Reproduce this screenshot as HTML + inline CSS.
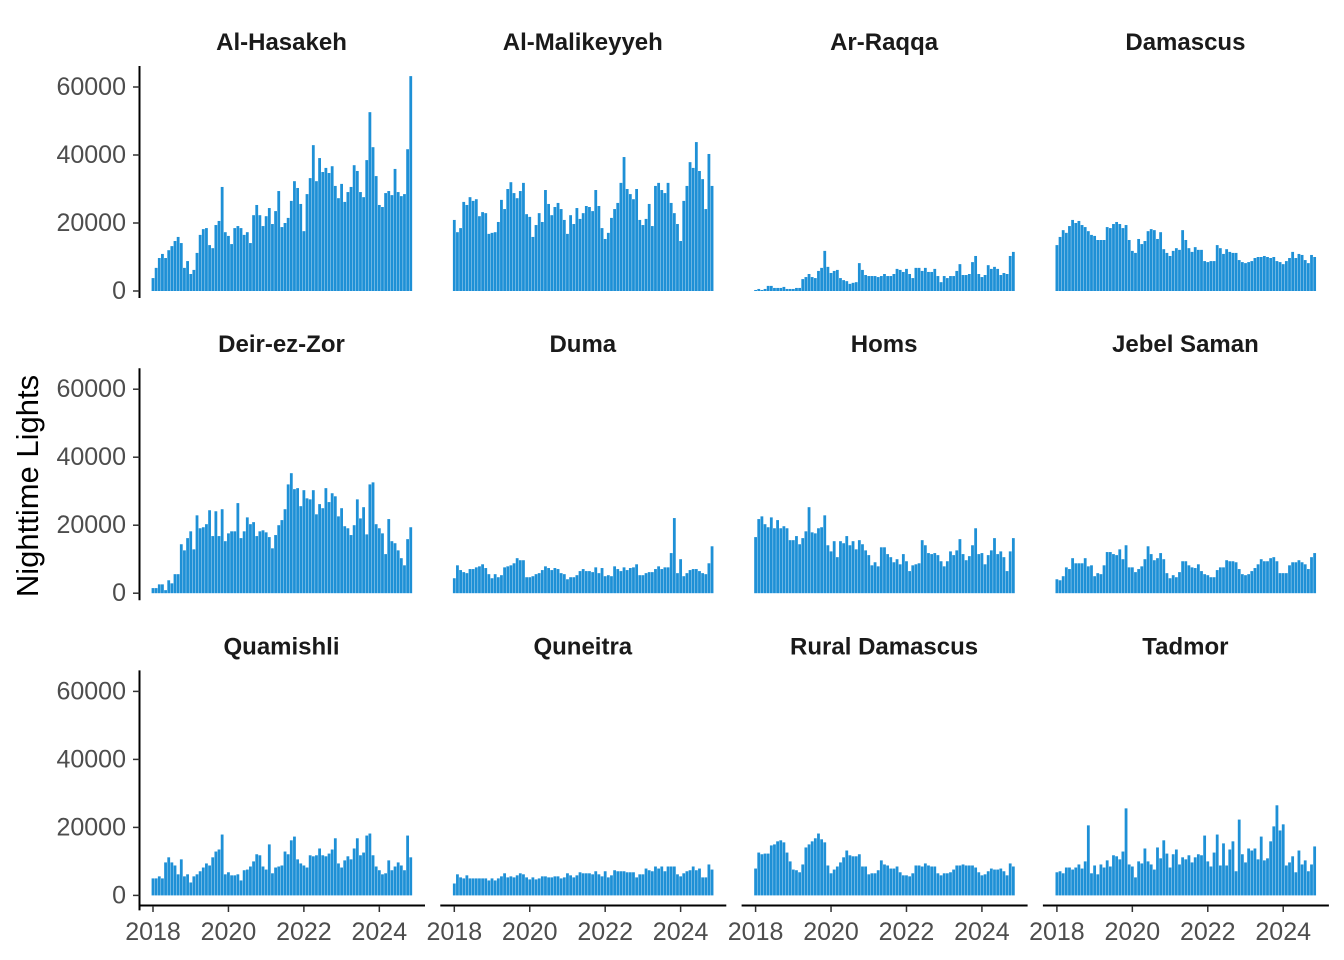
<!DOCTYPE html>
<html><head><meta charset="utf-8">
<style>
html,body{margin:0;padding:0;background:#fff;}
svg{display:block;font-family:"Liberation Sans",Arial,sans-serif;}
</style></head>
<body>
<svg id="chart" width="1344" height="960" viewBox="0 0 1344 960" xmlns="http://www.w3.org/2000/svg">
<text x="0" y="0" transform="translate(38,486) rotate(-90)" text-anchor="middle" font-size="31" fill="#000">Nighttime Lights</text>
</svg>
<script>
const panelNames = ["Al-Hasakeh","Al-Malikeyyeh","Ar-Raqqa","Damascus","Deir-ez-Zor","Duma","Homs","Jebel Saman","Quamishli","Quneitra","Rural Damascus","Tadmor"];
const yTicks = [0,20000,40000,60000];
const xTicks = [2018,2020,2022,2024];
const startYear = 2018;
const vHasakeh = [3800,6800,9700,10900,9700,12000,13200,14700,15900,14100,6800,8800,5000,6200,11200,16500,18200,18500,13500,12600,19400,20600,30600,17300,16200,13800,18500,19100,18500,16500,17300,14100,22300,25300,22300,19100,22000,24400,19700,23500,29400,18800,20000,21500,26500,32300,30300,25600,17600,28500,33200,42900,32300,39100,35000,36200,34700,36700,30900,27300,31500,26200,29100,30600,37000,35300,29100,27600,38500,52600,42300,33800,25300,24700,28800,29400,28200,35900,29100,27900,28500,41700,63200];
const vMalikeyyeh = [20900,17300,18500,26200,25300,27600,26500,27000,22000,23200,22900,16800,17100,17300,20300,26800,24100,30000,32000,28800,27300,29400,31800,22600,21800,15900,19400,22900,20300,29700,25600,22300,24700,25900,24100,20900,16800,22300,19700,24400,21200,22900,25000,24700,23500,29700,25000,18500,15300,17100,21500,24100,25900,31800,39400,30000,28500,27000,30000,20900,19400,21200,25600,19100,30900,31800,29700,28800,31800,25900,22900,19700,14700,26500,30900,37900,36200,43800,35300,32900,24100,40300,30900];
const vRaqqa = [300,600,300,600,1500,1500,900,900,900,1200,600,600,600,900,900,3500,4100,5000,4100,3800,5900,6800,11800,7100,5300,5900,6200,3800,3200,2900,2100,2400,2600,8200,6200,4700,4400,4400,4400,4100,4400,5000,4400,4400,5000,6500,6200,5600,6500,5000,3800,6800,6800,5900,6800,5600,5600,6500,4400,2600,4400,3800,4400,4400,5900,7900,4700,4700,5000,8500,10300,5000,4100,4700,7600,6500,7100,6500,4700,5300,5000,10300,11500];
const vDamascus = [13500,15900,17900,17100,19100,20900,20000,20600,19400,18800,17600,16500,16200,15000,15000,15000,18800,18500,19700,20300,19700,18500,19400,15000,11800,11200,15300,13800,14700,17600,18200,17900,15300,17300,12300,11200,10300,11800,12600,12100,17900,15000,12600,11500,12900,12100,12100,8800,8500,8800,8800,13500,12600,10900,12300,11500,11200,11200,9100,8500,8200,8500,8800,9700,10000,10000,10300,10000,9700,10000,8800,8500,7900,8800,9700,11500,9700,10900,10600,9100,8200,10600,10000];
const vDeir = [1500,1500,2600,2600,900,3800,2900,5600,5600,14400,12600,16200,18200,12900,22900,19100,19400,20300,24400,16800,24100,16800,24700,15300,17600,18200,18200,26500,16200,18200,22300,20300,20900,16800,18200,18500,17900,16500,13200,17100,20000,21500,24700,32000,35300,30600,30900,25600,30300,27900,27600,30300,23200,26200,25000,30900,26800,29400,28500,22600,25000,19700,19100,17100,20000,27600,22000,25300,17300,32000,32600,20300,19100,17600,11500,21800,15300,14700,12600,10300,8200,15900,19400];
const vDuma = [4400,8200,6800,6200,5900,7100,7100,7600,7900,8500,7400,5600,4400,5600,4700,5300,7600,7900,8200,8800,10300,9700,9700,4700,4700,5000,5600,5900,6800,7900,7400,6800,7400,7100,5900,5600,4100,4700,4700,5300,6500,7100,6500,6500,6200,7600,5900,7400,5000,5300,5000,7900,7100,6500,7600,6800,7400,7600,8500,5300,5300,5900,6200,6200,7100,7900,7100,7600,7600,11800,22100,5900,10000,5000,5900,6800,7100,7100,6500,5900,5600,8800,13800];
const vHoms = [16500,21800,22600,20300,19400,22300,19100,21500,19100,19700,19100,15600,15600,16800,14400,16200,18200,25300,17900,17600,19100,19400,22900,14100,12300,15300,10600,15300,14700,16800,14100,15300,12900,15600,14400,12600,11200,8200,9100,7900,13500,13500,11500,10600,9100,10000,8500,11500,9400,6500,8200,8500,8800,15600,14100,11800,11500,11800,11200,9400,7900,9400,12300,11200,12600,15900,11500,9700,10900,14100,19100,11500,11800,8500,11200,12600,16200,11500,12300,10600,6500,12300,16200];
const vJebel = [4100,3800,5000,7600,7100,10300,8800,8800,8800,10300,7900,8200,5000,5900,5600,8200,12100,12100,11500,11200,12900,10000,14100,7600,7600,6200,7100,7900,10000,13800,11500,9700,10300,11800,10000,5900,4400,5300,4700,6200,9400,9400,8200,7600,7400,8500,6500,5600,5300,4700,4700,6800,7600,7600,9700,9400,9400,9100,7100,5600,5300,5600,6500,7400,8500,10000,9400,9400,10300,10600,9400,5900,5900,5900,8200,9100,9100,9700,9100,8500,7100,10600,11800];
const vQuamishli = [5000,5000,5600,5000,9700,11200,9700,8800,6200,10600,5600,6200,3800,5600,6200,7100,8200,9400,8800,11200,12900,13500,17900,6200,6800,5900,5900,6200,4400,7400,7600,8500,10000,12100,11800,8500,7600,15000,6500,8200,8500,8800,12900,12100,16200,17300,10600,9400,8800,8200,11800,11500,11800,13800,11800,11500,12300,13500,16800,9400,8200,10300,11500,10600,13800,16800,11800,12600,17600,18200,11800,8500,7400,6200,6500,10300,7400,8500,9700,8800,7400,17600,11200];
const vQuneitra = [3500,6200,5300,5000,5900,5000,5000,5000,5000,5000,5000,4400,5000,4400,5000,5600,6500,5300,5600,5300,5900,6500,6200,5300,4700,5300,4700,5000,5600,5600,5300,5300,5600,5600,5000,5300,6500,5900,5300,5900,6800,6500,6500,6500,6200,7100,6200,5600,7100,5300,5900,7400,7100,7100,7100,6800,6800,6800,5300,6200,6200,7900,7400,7100,8500,7900,8500,7100,8500,8500,8500,6200,5600,6500,7100,7400,8500,7400,7900,5300,5300,9100,7600];
const vRural = [7900,12600,12100,12300,12300,14700,15000,15900,16200,15600,12600,10000,7600,7400,6800,9100,14100,15000,15900,16800,18200,16500,15600,8800,6500,7600,8500,9700,11200,13200,11800,11500,11500,12100,8500,8500,6200,6500,6500,7400,10300,9100,8800,7900,7900,8500,6800,5900,5900,5600,6500,8800,8800,8500,9400,8800,8500,8500,6500,5900,6500,6500,6800,7600,8800,8800,9100,8800,8800,8800,8200,6800,5900,6200,7100,7900,7600,7600,7900,7100,5900,9400,8500];
const vTadmor = [6800,7100,6500,8200,8200,7600,8200,9100,7900,10000,20600,6500,8800,6200,9100,8200,10300,8500,11800,11500,10600,12900,25600,9100,8500,5300,10000,9400,13800,10000,9100,7600,14100,10900,16200,12300,8200,12100,13500,9100,11200,10600,11800,9700,11200,12100,11800,17600,10000,8500,12600,17900,8800,15300,8800,13500,15900,7100,22300,12100,9700,13800,13200,13800,10600,17300,10300,10900,15900,20300,26500,19100,20900,8800,9700,11500,6800,13200,9100,10300,7100,9100,14400];
const panelValues = [vHasakeh,vMalikeyyeh,vRaqqa,vDamascus,vDeir,vDuma,vHoms,vJebel,vQuamishli,vQuneitra,vRural,vTadmor];

const svg = document.getElementById('chart');
const NS = 'http://www.w3.org/2000/svg';
const colStep = 301.3, rowStep = 302.2;
const monthPx = 37.72 / 12;
const pxPerUnit = 68 / 20000;
function xScale(col, monthIndex){ return 153 + col*colStep + monthIndex*monthPx; }
function yScale(row, v){ return 291 + row*rowStep - v*pxPerUnit; }
function mk(tag, attrs){ const e=document.createElementNS(NS,tag); for(const k in attrs) e.setAttribute(k,attrs[k]); svg.appendChild(e); return e; }

panelNames.forEach((name, i) => {
  const col = i % 4, row = Math.floor(i / 4);
  const left = 140 + col*colStep;
  const t = mk('text',{x: left+141.5, y: 50 + row*rowStep, 'text-anchor':'middle','font-size':'24','font-weight':'bold',fill:'#1a1a1a'});
  t.textContent = name;
  
  
  const vals = panelValues[i];
  vals.forEach((v, m) => {
    const cx = xScale(col, m);
    const y = yScale(row, v);
    const r = mk('rect',{x: (cx-1.4).toFixed(2), y: y.toFixed(2), width: 2.8, height: Math.max(0, yScale(row,0)-y).toFixed(2), fill:'#1E90D6'});
    
    
  });
  if (col === 0) {
    const top = 66 + row*rowStep, bot = 298 + row*rowStep + (row===2?8:0);
    const ax = mk('line',{x1:139.5,x2:139.5,y1:top,y2:bot,stroke:'#000','stroke-width':2});
    
    
    yTicks.forEach(tv => {
      const y = yScale(row, tv);
      const tk = mk('line',{x1:133,x2:139.5,y1:y,y2:y,stroke:'#333','stroke-width':1.5});
      
      
      const lb = mk('text',{x:126,y:y+8,'text-anchor':'end','font-size':'25',fill:'#4d4d4d'});
      lb.textContent = tv;
      
      
    });
  }
  if (row === 2) {
    const xa = mk('line',{x1:left-1,x2:left+285,y1:905.5,y2:905.5,stroke:'#000','stroke-width':2});
    
    
    xTicks.forEach(yr => {
      const x = xScale(col, (yr-startYear)*12);
      const tk = mk('line',{x1:x,x2:x,y1:906,y2:912,stroke:'#333','stroke-width':1.5});
      
      
      const lb = mk('text',{x:x,y:940,'text-anchor':'middle','font-size':'25',fill:'#4d4d4d'});
      lb.textContent = yr;
      
      
    });
  }
});
</script>
</body></html>
